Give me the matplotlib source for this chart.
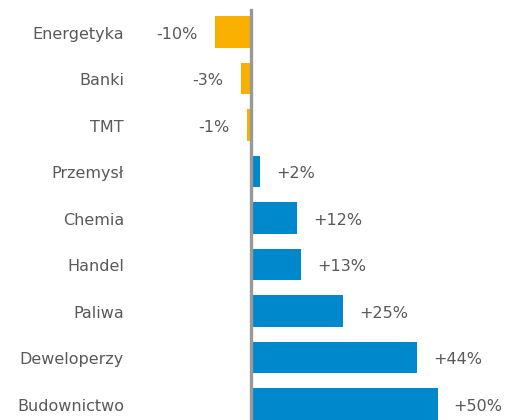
import matplotlib
matplotlib.use("Agg")
import matplotlib.pyplot as plt

# sector returns (bar lengths, labels as printed)
sectors = ["Energetyka", "Banki", "TMT", "Przemysł", "Chemia", "Handel",
           "Paliwa", "Deweloperzy", "Budownictwo"]
values = [-9.6, -2.7, -1.0, 2.4, 12.3, 13.4, 24.7, 44.7, 50.2]
value_labels = ["-10%", "-3%", "-1%", "+2%", "+12%", "+13%", "+25%", "+44%", "+50%"]

ORANGE = "#F9B000"
BLUE = "#0088CC"
TEXT = "#595959"

fig = plt.figure(figsize=(5.06, 4.20), dpi=100)
ax = fig.add_axes([0, 0, 1, 1])

px_per_pct = 3.72
zero_px = 251
row_px = 46.5
first_row_px = 32

ax.set_xlim(-zero_px / px_per_pct, (506 - zero_px) / px_per_pct)
ax.set_ylim((420 - first_row_px) / row_px, -first_row_px / row_px)
ax.axis("off")

ypos = list(range(len(sectors)))
colors = [ORANGE if v < 0 else BLUE for v in values]
ax.barh(ypos, values, height=0.67, color=colors, zorder=2)

# zero line
ax.axvline(0, ymin=0, ymax=410 / 420, color="#999999", linewidth=2.4, zorder=3)

fs = 11.5
for y, v, lab, name in zip(ypos, values, value_labels, sectors):
    if v < 0:
        ax.text(v - 18 / px_per_pct, y + 0.05, lab, ha="right", va="center",
                fontsize=fs, color=TEXT)
    else:
        ax.text(v + 16 / px_per_pct, y + 0.05, lab, ha="left", va="center",
                fontsize=fs, color=TEXT)
    ax.text(124 / 506, y + 0.05, name, transform=ax.get_yaxis_transform(),
            ha="right", va="center", fontsize=fs, color=TEXT)

fig.savefig("out.png", dpi=100)
